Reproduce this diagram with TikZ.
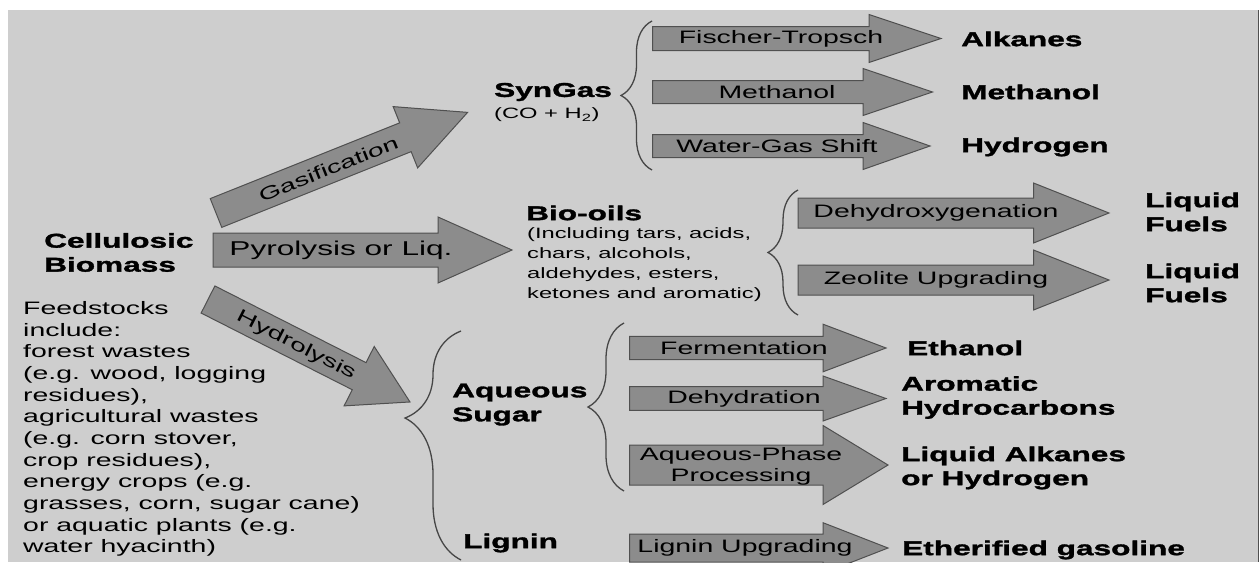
\documentclass[tikz,border=0pt]{standalone}
\usepackage{fontspec}
\setmainfont{Liberation Sans}[FakeStretch=1.58,BoldFeatures={FakeBold=1.6}]
\usetikzlibrary{decorations.pathreplacing}
\definecolor{panelgray}{RGB}{206,206,206}
\definecolor{stepfill}{RGB}{140,140,140}
\definecolor{stepedge}{RGB}{80,80,80}
\definecolor{braceedge}{RGB}{70,70,70}
\tikzset{
  steparrow/.style={
    draw=stepedge,
    fill=stepfill,
    line width=1pt
  },
  steplabel/.style={
    font=\fontsize{18}{21}\selectfont,
    inner sep=0pt,
    align=center
  },
  product/.style={
    font=\fontsize{20}{24}\selectfont\bfseries,
    inner sep=0pt,
    anchor=west,
    align=left
  },
  sidenote/.style={
    font=\fontsize{15}{20}\selectfont,
    inner sep=0pt,
    anchor=west,
    align=left
  },
  curlybrace/.style={
    draw=braceedge,
    line width=1.3pt,
    decorate,
    decoration={brace,amplitude=#1}
  }
}
% block arrow: tail x, neck x, tip x, axis y, half body, half head
\newcommand{\blockarrow}[6]{%
  \path[steparrow] (#1,#4-#5) -- (#2,#4-#5) -- (#2,#4-#6) -- (#3,#4)
    -- (#2,#4+#6) -- (#2,#4+#5) -- (#1,#4+#5) -- cycle;}

\begin{document}
\begin{tikzpicture}[x=1pt,y=-1pt]

  \useasboundingbox (0,0) rectangle (1260,562);

  % Grey panel with its dark right edge.
  \fill[panelgray] (8,10) rectangle (1258,562);
  \draw[stepedge,line width=1.5pt] (1258.5,10) -- (1258.5,562);

  % Feedstock and its description.
  \node[product] (biomass) at (44,252.5) {Cellulosic\\Biomass};
  \node[font=\fontsize{18}{21.65}\selectfont,inner sep=0pt,anchor=west,align=left]
    (feedstocks) at (23,429) {Feedstocks\\include:\\forest wastes\\(e.g. wood, logging\\residues),\\agricultural wastes\\(e.g. corn stover,\\crop residues),\\energy crops (e.g.\\grasses, corn, sugar cane)\\or aquatic plants (e.g.\\water hyacinth)};

  % The three primary routes.
  \begin{scope}[shift={(216,213)},rotate=21.8]
    \blockarrow{0}{204}{271}{0}{15.5}{33}
  \end{scope}
  \node[steplabel,rotate=21.8] (gasification) at (328.5,169) {Gasification};

  \blockarrow{213}{438}{512}{250}{17}{33}
  \node[steplabel,font=\fontsize{20}{24}\selectfont] (pyrolysis) at (341,250) {Pyrolysis or Liq.};

  \begin{scope}[shift={(208,299.5)},rotate=-26.9]
    \blockarrow{0}{169.5}{226.5}{0}{15.2}{33.3}
  \end{scope}
  \node[steplabel,rotate=-26.9] (hydrolysis) at (296,345.5) {Hydrolysis};

  % Intermediates.
  \node[product] (syngas) at (494,92) {SynGas};
  \node[sidenote] (syngasmix) at (494,115) {(CO + H\textsubscript{2})};
  \node[product] (biooils) at (526,213) {Bio-oils};
  \node[sidenote] (biooilmix) at (527,265) {(Including tars, acids,\\chars, alcohols,\\aldehydes, esters,\\ketones and aromatic)};
  \node[product] (sugar) at (452,404.5) {Aqueous\\Sugar};
  \node[product] (lignin) at (463,543) {Lignin};

  % Braces grouping the upgrading steps.
  \draw[curlybrace=31] (652,170) -- (652,21);
  \draw[curlybrace=30] (798,315) -- (798,190);
  \draw[curlybrace=56,decoration={aspect=0.62}] (461,560) -- (461,331);
  \draw[curlybrace=36] (624,491) -- (624,323);

  % SynGas upgrading.
  \blockarrow{652.6}{869}{941}{38.5}{12}{24}
  \node[steplabel] (fischer) at (781,38.5) {Fischer-Tropsch};
  \blockarrow{652.6}{863}{932.5}{92}{11.5}{23.5}
  \node[steplabel] (methanolstep) at (777,92) {Methanol};
  \blockarrow{652.6}{863}{930}{146}{11.5}{23.5}
  \node[steplabel] (watergas) at (777,146) {Water-Gas Shift};

  \node[product] (alkanes) at (961,39) {Alkanes};
  \node[product] (methanol) at (961,92) {Methanol};
  \node[product] (hydrogen) at (961,147) {Hydrogen};

  % Bio-oil upgrading.
  \blockarrow{798}{1033.5}{1109}{213}{15}{30}
  \node[steplabel] (dehydroxy) at (936,213) {Dehydroxygenation};
  \blockarrow{798}{1033.5}{1109}{280}{15}{30}
  \node[steplabel] (zeolite) at (936,280) {Zeolite Upgrading};

  \node[product] (fuelsa) at (1145,212) {Liquid\\Fuels};
  \node[product] (fuelsb) at (1145,283) {Liquid\\Fuels};

  % Sugar and lignin upgrading.
  \blockarrow{629.5}{823}{886}{348}{11.7}{23.8}
  \node[steplabel] (fermentation) at (744,348) {Fermentation};
  \blockarrow{629.5}{823}{886}{398.5}{11.8}{22.5}
  \node[steplabel] (dehydration) at (744,398.5) {Dehydration};
  \blockarrow{629.5}{823}{888}{465}{20}{39.5}
  \node[steplabel] (aqueousphase) at (741,466.5) {Aqueous-Phase\\Processing};
  \blockarrow{629.5}{823}{888}{548}{14}{25.3}
  \node[steplabel] (ligninstep) at (745,548) {Lignin Upgrading};

  \node[product] (ethanol) at (907,348) {Ethanol};
  \node[product] (aromatics) at (901,397.5) {Aromatic\\Hydrocarbons};
  \node[product] (liqalkanes) at (901,468) {Liquid Alkanes\\or Hydrogen};
  \node[product] (gasoline) at (902,550) {Etherified gasoline};

\end{tikzpicture}
\end{document}
